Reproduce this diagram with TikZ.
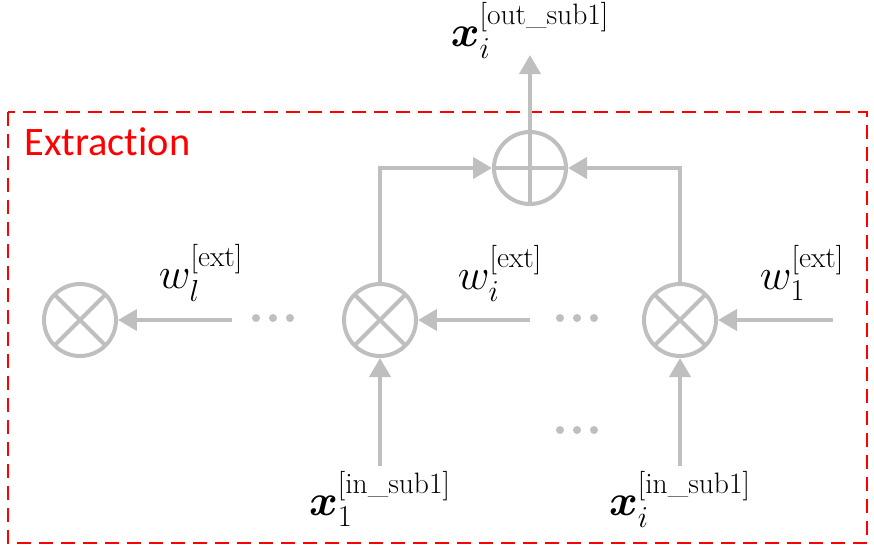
\documentclass[tikz,border=0pt]{standalone}
\usepackage{amsmath,amssymb,bm}
\usepackage{fontspec}
\usepackage{tikz}
\usetikzlibrary{arrows.meta,positioning,calc}
\newfontfamily\extfont[Ligatures=NoCommon]{Carlito}
\definecolor{opgray}{HTML}{BFBFBF}
\definecolor{extred}{HTML}{FF0000}

\begin{document}
\begin{tikzpicture}[
    x=0.02cm, y=-0.02cm,
    op/.style={circle, draw=opgray, line width=0.08cm, minimum size=1.44cm, inner sep=0pt},
    mult/.style={op, path picture={\draw[opgray, line width=0.08cm]
        (path picture bounding box.north west) -- (path picture bounding box.south east)
        (path picture bounding box.north east) -- (path picture bounding box.south west);}},
    plus/.style={op, path picture={\draw[opgray, line width=0.08cm]
        (path picture bounding box.north) -- (path picture bounding box.south)
        (path picture bounding box.west) -- (path picture bounding box.east);}},
    arrow/.style={-{Triangle[length=0.38cm, width=0.42cm]}, draw=opgray, line width=0.08cm},
    lbl/.style={font=\fontsize{24}{28}\selectfont, inner sep=0pt}
  ]
    \useasboundingbox (0,0) rectangle (874,549);

    % extraction block
    \draw[extred, line width=0.04cm, dash pattern=on 0.28cm off 0.16cm] (8,112) rectangle (867,543);
    \node[anchor=west, text=extred, font=\extfont\fontsize{23}{27}\selectfont, inner sep=0pt] (title) at (24,142) {Extraction};

    % operators
    \node[plus] (sum) at (530,168) {};
    \node[mult] (mul) at (80,320) {};
    \node[mult] (muli) at (380,320) {};
    \node[mult] (mulone) at (680,320) {};

    % free ends
    \coordinate (out) at (530,55);
    \coordinate (wl) at (232,320);
    \coordinate (wi) at (530,320);
    \coordinate (wone) at (833,320);
    \coordinate (inone) at (380,466);
    \coordinate (ini) at (680,466);

    % labels
    \node[lbl] (xout) at (530,30) {$\bm{x}_i^{\text{[out\_sub1]}}$};
    \node[lbl] (wll) at (201,273) {$w_l^{\text{[ext]}}$};
    \node[lbl] (wil) at (500,273) {$w_i^{\text{[ext]}}$};
    \node[lbl] (wonel) at (802,273) {$w_1^{\text{[ext]}}$};
    \node[lbl] (xinone) at (380,499) {$\bm{x}_1^{\text{[in\_sub1]}}$};
    \node[lbl] (xini) at (680,499) {$\bm{x}_i^{\text{[in\_sub1]}}$};

    % connectors
    \draw[arrow] (sum.north) -- (out);
    \draw[arrow] (muli.north) |- (sum.west);
    \draw[arrow] (mulone.north) |- (sum.east);
    \draw[arrow] (wl) -- (mul.east);
    \draw[arrow] (wi) -- (muli.east);
    \draw[arrow] (wone) -- (mulone.east);
    \draw[arrow] (inone) -- (muli.south);
    \draw[arrow] (ini) -- (mulone.south);

    % dots
    \foreach \cx/\cy in {273/318, 577/318, 577/430}
      \foreach \dx in {-17,0,17}
        \fill[opgray] (\cx+\dx,\cy) circle (4);
  \end{tikzpicture}
\end{document}
